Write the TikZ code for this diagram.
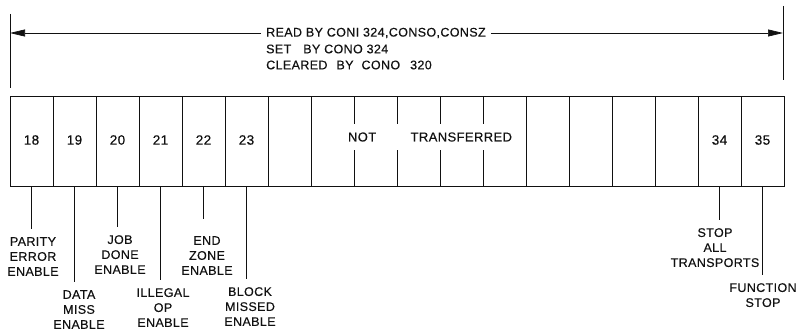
\documentclass[tikz,border=0pt]{standalone}
\usepackage{fontspec}
\setmainfont{Liberation Sans}[LetterSpace=3,FakeBold=0.4]
\usetikzlibrary{arrows.meta}
\definecolor{inkMain}{HTML}{111111}
\newcommand{\leroyfont}{\fontsize{12.5pt}{15pt}\selectfont}
\tikzset{
  reg cell/.style ={draw=inkMain,line width=1pt,minimum width=43pt,
                    minimum height=89pt,inner sep=0pt,outer sep=0pt},
  reg tick/.style ={draw=inkMain,line width=0.8pt},
  reg arrow/.style={draw=inkMain,line width=0.7pt,shorten <=5pt,
                    -{Triangle[length=15pt,width=7pt]}},
  leader/.style   ={draw=inkMain,line width=0.7pt,shorten >=8pt},
  bit num/.style  ={font=\fontsize{13.5pt}{15pt}\selectfont},
  bit name/.style ={align=center,anchor=north,inner sep=0pt},
}

\begin{document}
\begin{tikzpicture}[x=1pt,y=-1pt,
          every node/.style={font=\leroyfont,text=inkMain},
        ]
        \useasboundingbox (0,0) rectangle (799,334);
        \foreach \i in {0,...,17}{
          \pgfmathtruncatemacro{\b}{18+\i}
          \node[reg cell] (c\b) at ({31.5+43*\i},141.5) {};
        }
        \foreach \b in {18,...,23,34,35}
          \node[bit num] at ([yshift=1.5pt]c\b) {\b};
        \node[fill=white,inner xsep=1pt,inner ysep=8pt,text width=164pt,
              font=\fontsize{13pt}{15pt}\selectfont]
              (ntr) at (430,137) {NOT\hfill TRANSFERRED};
        \coordinate (tlTop) at (10,14);
        \coordinate (tlBot) at (10,88);
        \coordinate (trTop) at (783,6);
        \coordinate (trBot) at (783,80);
        \draw[reg tick] (tlTop) -- (tlBot);
        \draw[reg tick] (trTop) -- (trBot);
        \node[anchor=west,inner sep=0pt] (rd1) at (266,33) {READ BY CONI 324,CONSO,CONSZ};
        \node[anchor=west,inner sep=0pt] (rd2) at (266,49) {SET\hspace{12pt}BY CONO 324};
        \node[anchor=west,inner sep=0pt] (rd3) at (266,65)
              {CLEARED\hspace{9pt}BY\hspace{8pt}CONO\hspace{10pt}320};
        \draw[reg arrow] (rd1.west) -- (tlTop |- rd1.west);
        \draw[reg arrow] (rd1.east) -- (trTop |- rd1.east);
        \node[bit name] (l18) at ( 33,237) {PARITY\\ERROR\\ENABLE};
        \node[bit name] (l19) at ( 79,290) {DATA\\MISS\\ENABLE};
        \node[bit name] (l20) at (120,235) {JOB\\DONE\\ENABLE};
        \node[bit name] (l21) at (163,288) {ILLEGAL\\OP\\ENABLE};
        \node[bit name] (l22) at (207,236) {END\\ZONE\\ENABLE};
        \node[bit name] (l23) at (250,287) {BLOCK\\MISSED\\ENABLE};
        \node[bit name] (l34) at (715,228) {STOP\\ALL\\TRANSPORTS};
        \node[bit name] (l35) at (763,283) {FUNCTION\\STOP};
        \foreach \b in {18,19,20,21,23,34,35}
          \draw[leader] (c\b.south) -- (c\b.south |- l\b.north);
        \draw[leader,shorten >=17pt] (c22.south) -- (c22.south |- l22.north);
      \end{tikzpicture}
\end{document}
